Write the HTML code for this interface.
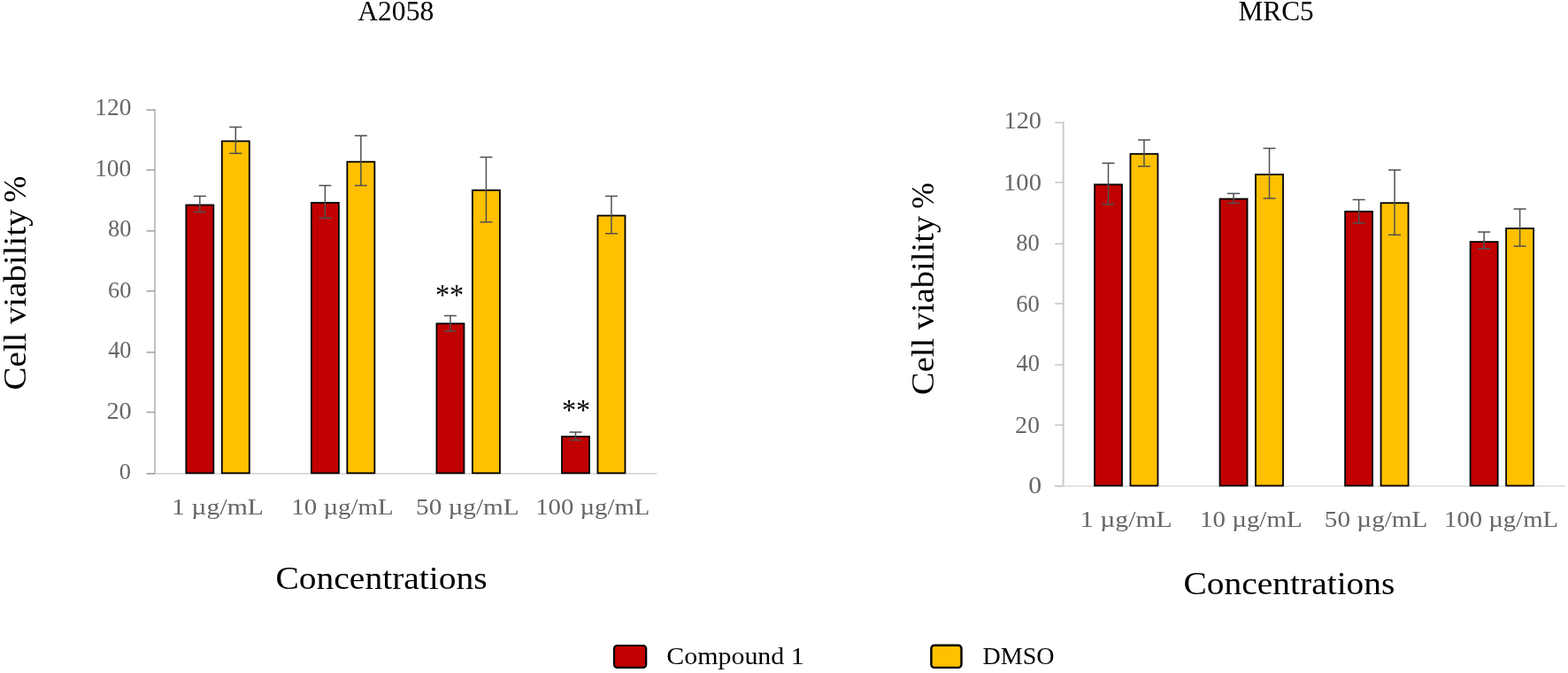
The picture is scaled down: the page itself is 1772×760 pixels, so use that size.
<!DOCTYPE html>
<html><head><meta charset="utf-8"><title>Cell viability</title>
<style>
html,body{margin:0;padding:0;background:#fff;overflow:hidden}
svg{display:block}
text{font-family:"Liberation Serif", serif;white-space:pre}
</style></head><body>
<svg width="1772" height="760" viewBox="0 0 1772 760">
<rect width="1772" height="760" fill="#fff"/>
<line x1="175.00" y1="123.30" x2="175.00" y2="535.60" stroke="#C2C2C2" stroke-width="2"/>
<line x1="165.50" y1="534.80" x2="742.50" y2="534.80" stroke="#D9D9D9" stroke-width="1.8"/>
<line x1="165.50" y1="534.80" x2="175.00" y2="534.80" stroke="#A0A0A0" stroke-width="1.5"/>
<line x1="165.50" y1="465.50" x2="175.00" y2="465.50" stroke="#A0A0A0" stroke-width="1.5"/>
<line x1="165.50" y1="397.90" x2="175.00" y2="397.90" stroke="#A0A0A0" stroke-width="1.5"/>
<line x1="165.50" y1="328.70" x2="175.00" y2="328.70" stroke="#A0A0A0" stroke-width="1.5"/>
<line x1="165.50" y1="260.80" x2="175.00" y2="260.80" stroke="#A0A0A0" stroke-width="1.5"/>
<line x1="165.50" y1="191.95" x2="175.00" y2="191.95" stroke="#A0A0A0" stroke-width="1.5"/>
<line x1="165.50" y1="124.10" x2="175.00" y2="124.10" stroke="#A0A0A0" stroke-width="1.5"/>
<rect x="210.35" y="231.50" width="31" height="302.80" fill="#C00000" stroke="#000" stroke-width="1.8"/>
<rect x="250.81" y="159.40" width="31" height="374.90" fill="#FFC000" stroke="#000" stroke-width="1.8"/>
<path d="M225.85 221.50V239.50M218.85 221.50H232.85M218.85 239.50H232.85" stroke="#505050" stroke-width="1.5" fill="none"/>
<path d="M266.31 143.50V173.30M259.31 143.50H273.31M259.31 173.30H273.31" stroke="#505050" stroke-width="1.5" fill="none"/>
<rect x="351.89" y="229.00" width="31" height="305.30" fill="#C00000" stroke="#000" stroke-width="1.8"/>
<rect x="392.36" y="182.70" width="31" height="351.60" fill="#FFC000" stroke="#000" stroke-width="1.8"/>
<path d="M367.39 209.50V246.30M360.39 209.50H374.39M360.39 246.30H374.39" stroke="#505050" stroke-width="1.5" fill="none"/>
<path d="M407.86 153.20V209.50M400.86 153.20H414.86M400.86 209.50H414.86" stroke="#505050" stroke-width="1.5" fill="none"/>
<rect x="493.44" y="365.40" width="31" height="168.90" fill="#C00000" stroke="#000" stroke-width="1.8"/>
<rect x="533.90" y="214.80" width="31" height="319.50" fill="#FFC000" stroke="#000" stroke-width="1.8"/>
<path d="M508.94 356.50V374.00M501.94 356.50H515.94M501.94 374.00H515.94" stroke="#505050" stroke-width="1.5" fill="none"/>
<path d="M549.40 177.50V250.80M542.40 177.50H556.40M542.40 250.80H556.40" stroke="#505050" stroke-width="1.5" fill="none"/>
<rect x="635.00" y="493.00" width="31" height="41.30" fill="#C00000" stroke="#000" stroke-width="1.8"/>
<rect x="675.46" y="243.50" width="31" height="290.80" fill="#FFC000" stroke="#000" stroke-width="1.8"/>
<path d="M650.50 488.10V496.90M643.50 488.10H657.50M643.50 496.90H657.50" stroke="#505050" stroke-width="1.5" fill="none"/>
<path d="M690.96 221.60V263.70M683.96 221.60H697.96M683.96 263.70H697.96" stroke="#505050" stroke-width="1.5" fill="none"/>
<line x1="1201.65" y1="137.60" x2="1201.65" y2="549.80" stroke="#CCCCCC" stroke-width="2"/>
<line x1="1192.15" y1="549.00" x2="1769.15" y2="549.00" stroke="#E3E3E3" stroke-width="1.8"/>
<line x1="1192.15" y1="549.00" x2="1201.65" y2="549.00" stroke="#C4C4C4" stroke-width="1.5"/>
<line x1="1192.15" y1="480.00" x2="1201.65" y2="480.00" stroke="#C4C4C4" stroke-width="1.5"/>
<line x1="1192.15" y1="412.00" x2="1201.65" y2="412.00" stroke="#C4C4C4" stroke-width="1.5"/>
<line x1="1192.15" y1="342.90" x2="1201.65" y2="342.90" stroke="#C4C4C4" stroke-width="1.5"/>
<line x1="1192.15" y1="275.30" x2="1201.65" y2="275.30" stroke="#C4C4C4" stroke-width="1.5"/>
<line x1="1192.15" y1="206.00" x2="1201.65" y2="206.00" stroke="#C4C4C4" stroke-width="1.5"/>
<line x1="1192.15" y1="138.40" x2="1201.65" y2="138.40" stroke="#C4C4C4" stroke-width="1.5"/>
<rect x="1237.00" y="208.40" width="31" height="340.10" fill="#C00000" stroke="#000" stroke-width="1.8"/>
<rect x="1277.46" y="173.80" width="31" height="374.70" fill="#FFC000" stroke="#000" stroke-width="1.8"/>
<path d="M1252.50 184.30V230.80M1245.50 184.30H1259.50M1245.50 230.80H1259.50" stroke="#505050" stroke-width="1.5" fill="none"/>
<path d="M1292.96 157.90V187.70M1285.96 157.90H1299.96M1285.96 187.70H1299.96" stroke="#505050" stroke-width="1.5" fill="none"/>
<rect x="1378.55" y="224.60" width="31" height="323.90" fill="#C00000" stroke="#000" stroke-width="1.8"/>
<rect x="1419.01" y="197.10" width="31" height="351.40" fill="#FFC000" stroke="#000" stroke-width="1.8"/>
<path d="M1394.05 218.40V229.60M1387.05 218.40H1401.05M1387.05 229.60H1401.05" stroke="#505050" stroke-width="1.5" fill="none"/>
<path d="M1434.51 167.60V223.90M1427.51 167.60H1441.51M1427.51 223.90H1441.51" stroke="#505050" stroke-width="1.5" fill="none"/>
<rect x="1520.10" y="238.80" width="31" height="309.70" fill="#C00000" stroke="#000" stroke-width="1.8"/>
<rect x="1560.56" y="229.20" width="31" height="319.30" fill="#FFC000" stroke="#000" stroke-width="1.8"/>
<path d="M1535.60 225.40V252.10M1528.60 225.40H1542.60M1528.60 252.10H1542.60" stroke="#505050" stroke-width="1.5" fill="none"/>
<path d="M1576.06 191.90V265.20M1569.06 191.90H1583.06M1569.06 265.20H1583.06" stroke="#505050" stroke-width="1.5" fill="none"/>
<rect x="1661.64" y="273.10" width="31" height="275.40" fill="#C00000" stroke="#000" stroke-width="1.8"/>
<rect x="1702.11" y="257.90" width="31" height="290.60" fill="#FFC000" stroke="#000" stroke-width="1.8"/>
<path d="M1677.14 262.10V280.80M1670.14 262.10H1684.14M1670.14 280.80H1684.14" stroke="#505050" stroke-width="1.5" fill="none"/>
<path d="M1717.61 236.00V278.10M1710.61 236.00H1724.61M1710.61 278.10H1724.61" stroke="#505050" stroke-width="1.5" fill="none"/>
<text x="404.18" y="23.00" font-size="32.18" textLength="86.15" lengthAdjust="spacingAndGlyphs" fill="#000">A2058</text>
<text x="1399.56" y="23.00" font-size="31.82" textLength="85.13" lengthAdjust="spacingAndGlyphs" fill="#000">MRC5</text>
<text transform="translate(29.00,440.56) rotate(-90)" x="0" y="0" font-size="36.47" textLength="204.23" lengthAdjust="spacingAndGlyphs" fill="#000">Cell viability</text>
<text transform="translate(29.00,228.76) rotate(-90)" x="0" y="0" font-size="36.84" textLength="29.95" lengthAdjust="spacingAndGlyphs" fill="#000">%</text>
<text transform="translate(1055.00,446.04) rotate(-90)" x="0" y="0" font-size="35.44" textLength="202.21" lengthAdjust="spacingAndGlyphs" fill="#000">Cell viability</text>
<text transform="translate(1055.00,235.74) rotate(-90)" x="0" y="0" font-size="35.34" textLength="29.40" lengthAdjust="spacingAndGlyphs" fill="#000">%</text>
<text x="134.84" y="540.60" font-size="26.17" textLength="13.21" lengthAdjust="spacingAndGlyphs" fill="#666666">0</text>
<text x="120.43" y="473.00" font-size="27.22" textLength="28.31" lengthAdjust="spacingAndGlyphs" fill="#666666">20</text>
<text x="122.17" y="403.60" font-size="26.54" textLength="26.28" lengthAdjust="spacingAndGlyphs" fill="#666666">40</text>
<text x="122.04" y="335.60" font-size="26.02" textLength="26.41" lengthAdjust="spacingAndGlyphs" fill="#666666">60</text>
<text x="122.04" y="266.60" font-size="26.54" textLength="26.41" lengthAdjust="spacingAndGlyphs" fill="#666666">80</text>
<text x="107.17" y="199.40" font-size="27.22" textLength="41.13" lengthAdjust="spacingAndGlyphs" fill="#666666">100</text>
<text x="107.37" y="129.80" font-size="26.62" textLength="41.13" lengthAdjust="spacingAndGlyphs" fill="#666666">120</text>
<text x="1162.21" y="556.60" font-size="27.82" textLength="14.88" lengthAdjust="spacingAndGlyphs" fill="#666666">0</text>
<text x="1147.36" y="488.60" font-size="26.92" textLength="27.54" lengthAdjust="spacingAndGlyphs" fill="#666666">20</text>
<text x="1148.47" y="419.40" font-size="27.22" textLength="26.38" lengthAdjust="spacingAndGlyphs" fill="#666666">40</text>
<text x="1148.34" y="351.60" font-size="27.22" textLength="26.52" lengthAdjust="spacingAndGlyphs" fill="#666666">60</text>
<text x="1148.34" y="282.60" font-size="27.82" textLength="26.52" lengthAdjust="spacingAndGlyphs" fill="#666666">80</text>
<text x="1134.07" y="214.60" font-size="27.82" textLength="42.87" lengthAdjust="spacingAndGlyphs" fill="#666666">100</text>
<text x="1134.50" y="145.40" font-size="27.52" textLength="42.44" lengthAdjust="spacingAndGlyphs" fill="#666666">120</text>
<text x="194.07" y="580.80" font-size="26.17" textLength="103.89" lengthAdjust="spacingAndGlyphs" fill="#666666">1 µg/mL</text>
<text x="1220.87" y="595.00" font-size="26.17" textLength="103.89" lengthAdjust="spacingAndGlyphs" fill="#666666">1 µg/mL</text>
<text x="329.24" y="580.80" font-size="26.17" textLength="115.57" lengthAdjust="spacingAndGlyphs" fill="#666666">10 µg/mL</text>
<text x="1356.04" y="595.00" font-size="26.17" textLength="115.57" lengthAdjust="spacingAndGlyphs" fill="#666666">10 µg/mL</text>
<text x="470.05" y="580.80" font-size="26.17" textLength="116.58" lengthAdjust="spacingAndGlyphs" fill="#666666">50 µg/mL</text>
<text x="1496.85" y="595.00" font-size="26.17" textLength="116.58" lengthAdjust="spacingAndGlyphs" fill="#666666">50 µg/mL</text>
<text x="605.26" y="580.80" font-size="26.17" textLength="129.04" lengthAdjust="spacingAndGlyphs" fill="#666666">100 µg/mL</text>
<text x="1632.06" y="595.00" font-size="26.17" textLength="129.04" lengthAdjust="spacingAndGlyphs" fill="#666666">100 µg/mL</text>
<text x="311.42" y="665.20" font-size="36.36" textLength="239.33" lengthAdjust="spacingAndGlyphs" fill="#000">Concentrations</text>
<text x="1337.52" y="671.10" font-size="36.82" textLength="238.93" lengthAdjust="spacingAndGlyphs" fill="#000">Concentrations</text>
<text x="491.89" y="344.03" font-size="32.88" textLength="32.22" lengthAdjust="spacingAndGlyphs" fill="#000">**</text>
<text x="634.89" y="474.03" font-size="32.88" textLength="32.22" lengthAdjust="spacingAndGlyphs" fill="#000">**</text>
<rect x="694.0" y="729.0" width="36.2" height="24.9" rx="3.5" fill="#C00000" stroke="#000" stroke-width="2.2"/>
<rect x="1052.4" y="728.7" width="34.1" height="25.2" rx="3.5" fill="#FFC000" stroke="#000" stroke-width="2.4"/>
<text x="753.30" y="750.00" font-size="27.73" textLength="155.39" lengthAdjust="spacingAndGlyphs" fill="#000">Compound 1</text>
<text x="1110.46" y="750.10" font-size="27.73" textLength="81.16" lengthAdjust="spacingAndGlyphs" fill="#000">DMSO</text>
</svg>
</body></html>
